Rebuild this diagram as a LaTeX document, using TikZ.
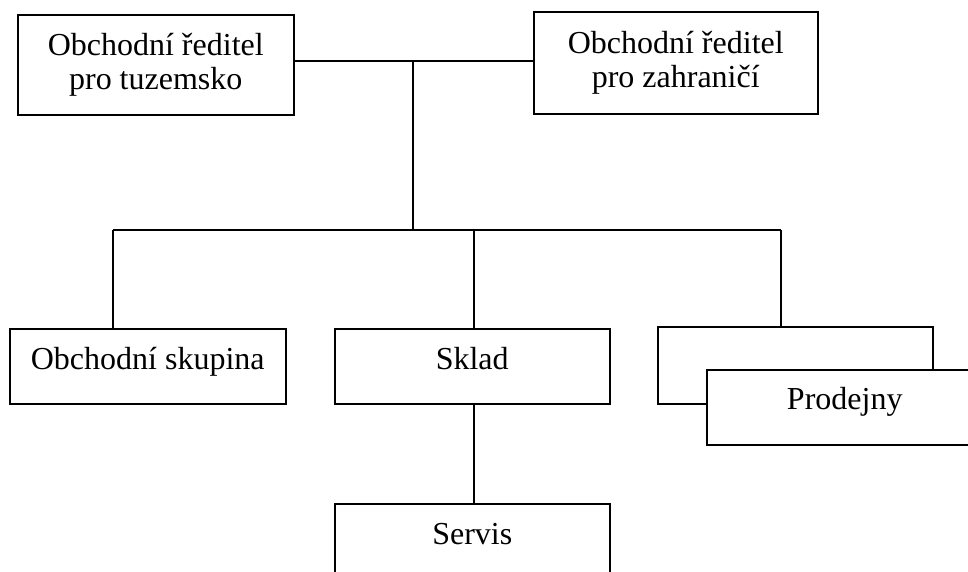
\documentclass[tikz,border=0pt]{standalone}
\usepackage{fontspec}
\setmainfont{Liberation Serif}
\usepackage{tikz}
\usetikzlibrary{positioning}

\begin{document}
\begin{tikzpicture}[x=1pt, y=-1pt,
    line width=1.5pt,
    topbox/.style={draw, fill=white, inner sep=0pt, align=center, anchor=north west,
                   minimum height=100pt, font=\fontsize{32}{34}\selectfont},
    unitbox/.style={draw, fill=white, inner sep=0pt, anchor=north west,
                    minimum width=276pt, text height=41pt, text depth=34pt,
                    font=\fontsize{32}{32}\selectfont},
    link/.style={line width=1.5pt}]
\useasboundingbox (0,0) rectangle (968,571);
\clip (0,0) rectangle (968,571);
% nodes %

\node[topbox, minimum width=276pt] (domestic) at (17,14) {Obchodní ředitel\\pro tuzemsko};
\node[topbox, minimum width=284pt, minimum height=102pt] (foreign) at (533,11) {Obchodní ředitel\\pro zahraničí};

\node[unitbox] (group) at (9,328) {Obchodní skupina};
\node[unitbox, minimum width=275pt] (store) at (334,328) {Sklad};
\node[unitbox, minimum width=275pt] (service) at (334,503) {Servis};
\node[unitbox, minimum width=275pt, text height=77pt, text depth=0pt] (shopsback) at (657,326) {};
\node[unitbox, text height=40pt, text depth=35pt] (shops) at (706,369) {Prodejny};

% edges %
\coordinate (top) at (413,61);
\coordinate (mid) at (413,230);
\coordinate (left) at (113,230);
\coordinate (centre) at (474,230);
\coordinate (right) at (781,230);

\draw[link] (domestic.east |- top) -- (foreign.west |- top);
\draw[link] (top) -- (mid);
\draw[link] (left) -- (right);
\draw[link] (left) -- (left |- group.north);
\draw[link] (centre) -- (centre |- store.north);
\draw[link] (right) -- (right |- shopsback.north);
\draw[link] (centre |- store.south) -- (centre |- service.north);

\end{tikzpicture}
\end{document}
